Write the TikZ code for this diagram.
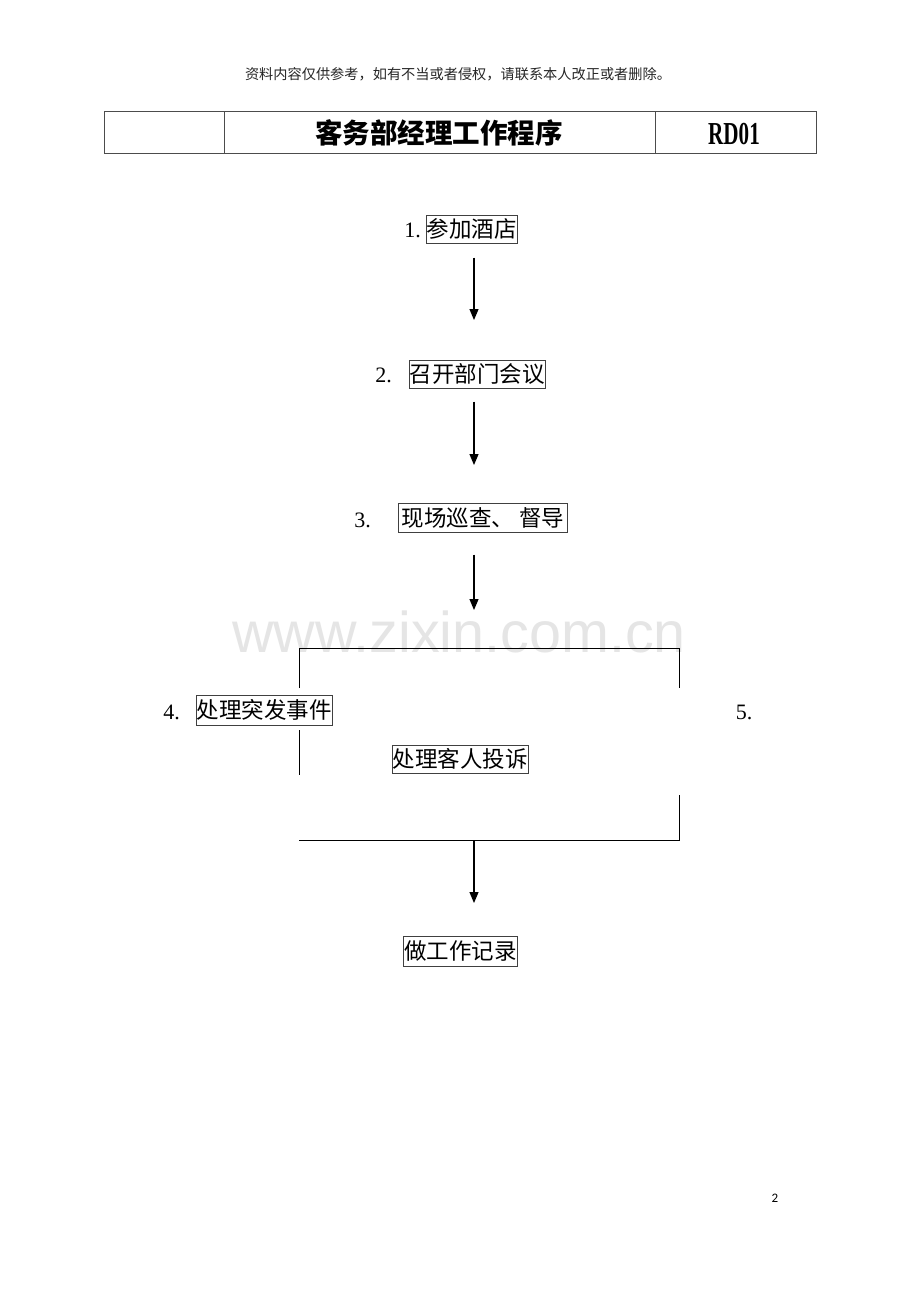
\documentclass[tikz,border=0pt]{standalone}
\usepackage{fontspec}
\setmainfont{Liberation Serif}
\newfontfamily\cjk{Noto Sans CJK SC}
\newfontfamily\wmfont{Liberation Sans}
\newfontfamily\pgfont{Carlito}
\usetikzlibrary{arrows.meta}
\begin{document}
\begin{tikzpicture}[x=1pt,y=-1pt,
  stepbox/.style={draw=black!75, line width=0.7pt, inner sep=0pt, anchor=north west,
    font=\cjk\fontsize{22.5}{24}\selectfont},
  numlab/.style={font=\fontsize{22}{24}\selectfont, inner sep=0pt},
  conn/.style={line width=1.2pt, black},
  arr/.style={conn, -{Triangle[length=11pt,width=9pt]}},
  frame/.style={line width=0.8pt, black!70}]
\useasboundingbox[fill=white] (0,0) rectangle (920,1302);

% watermark
\node[font=\wmfont\fontsize{57.5}{60}\selectfont, text=black!10, inner sep=0pt, anchor=base] (wm) at (459,652) {www.zixin.com.cn};

% header note
\node[font=\cjk\fontsize{14.2}{16}\selectfont, text=black!85, inner sep=0pt] (note) at (458,74) {资料内容仅供参考，如有不当或者侵权，请联系本人改正或者删除。};

% title table
\draw[frame] (104,111) rectangle (816,153);
\draw[frame] (224,111) -- (224,153);
\draw[frame] (655,111) -- (655,153);
\node[font=\cjk\bfseries\fontsize{27.5}{29}\selectfont, inner sep=0pt] (title) at (439,133) {客务部经理工作程序};
\node[font=\bfseries\fontsize{32}{34}\selectfont, inner sep=0pt] (code) at (734,134) {\scalebox{0.66}[1]{RD01}};

% steps
\node[stepbox, minimum width=91pt, minimum height=28pt] (b1) at (426,215) {参加酒店};
\node[numlab, anchor=east] (n1) at (421,230) {1.};
\node[stepbox, minimum width=136pt, minimum height=28pt] (b2) at (409,360) {召开部门会议};
\node[numlab, anchor=east] (n2) at (392,375) {2.};
\node[stepbox, minimum width=169pt, minimum height=29pt] (b3) at (398,503) {现场巡查、\hspace{5pt}督导};
\node[numlab, anchor=east] (n3) at (371,520) {3.};
\node[stepbox, minimum width=136pt, minimum height=30pt] (b4) at (196,695) {处理突发事件};
\node[numlab, anchor=east] (n4) at (180,712) {4.};
\node[stepbox, minimum width=136pt, minimum height=28pt] (b5) at (392,745) {处理客人投诉};
\node[numlab] (n5) at (744,712) {5.};
\node[stepbox, minimum width=114pt, minimum height=30pt] (b6) at (403,936) {做工作记录};

% bracket coordinates
\coordinate (tl) at (299,648);
\coordinate (tm) at (474,648);
\coordinate (tr) at (679,648);
\coordinate (lt) at (299,688);
\coordinate (lb1) at (299,730);
\coordinate (lb2) at (299,775);
\coordinate (rt) at (679,688);
\coordinate (rb1) at (679,795);
\coordinate (bl) at (299,840);
\coordinate (bm) at (474,840);
\coordinate (br) at (679,840);

% connectors
\draw[arr, shorten <=14pt, shorten >=40pt] (b1.south -| tm) -- (b2.north -| tm);
\draw[arr, shorten <=13pt, shorten >=38pt] (b2.south -| tm) -- (b3.north -| tm);
\draw[arr, shorten <=22pt, shorten >=38pt] (b3.south -| tm) -- (tm);
\draw[conn, line width=1pt] (lt) -- (tl) -- (tr) -- (rt);
\draw[conn, line width=1pt] (lb1) -- (lb2);
\draw[conn, line width=1pt] (rb1) -- (br) -- (bl);
\draw[arr, shorten >=33pt] (bm) -- (b6.north -| bm);

% page number
\node[font=\pgfont\fontsize{13}{15}\selectfont, inner sep=0pt] (pg) at (775,1198) {2};
\end{tikzpicture}
\end{document}
